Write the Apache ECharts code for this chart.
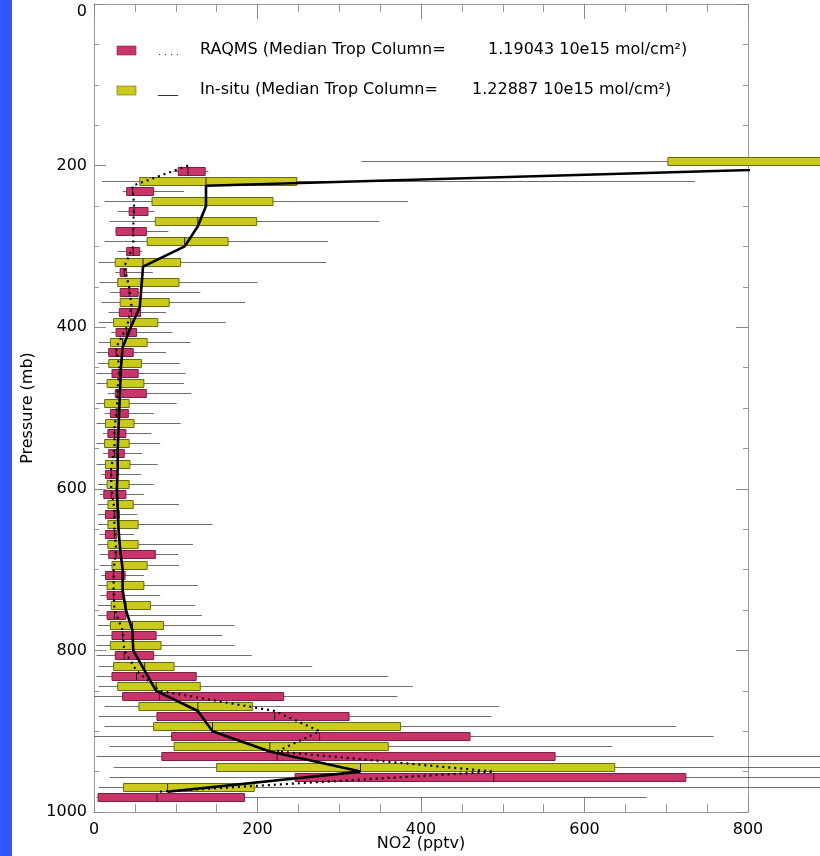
<!DOCTYPE html>
<html>
<head>
<meta charset="utf-8">
<script src="https://cdn.jsdelivr.net/npm/echarts@6/dist/echarts.min.js"></script>
<style>
  html, body { margin: 0; padding: 0; background: #ffffff; }
  #chart { width: 820px; height: 856px; }
</style>
</head>
<body>
<div id="chart"></div>
<script>
// Pressure bins (mb), 25 mb apart
const levels = [200, 225, 250, 275, 300, 325, 350, 375, 400, 425, 450, 475, 500, 525, 550, 575,
                600, 625, 650, 675, 700, 725, 750, 775, 800, 825, 850, 875, 900, 925, 950, 975];

// NO2 statistics per bin (pptv): [min, 25th, median, 75th, max]
const insituStats = [
  [327, 702, 990, 1500, 2200],
  [10, 56, 137, 248, 735],
  [13, 71, 137, 219, 384],
  [19, 75, 127, 199, 349],
  [13, 65, 111, 164, 286],
  [6, 26, 60, 106, 284],
  [7, 29, 58, 104, 200],
  [9, 32, 56, 92, 185],
  [6, 24, 45, 78, 161],
  [6, 20, 35, 65, 118],
  [5, 18, 33, 58, 105],
  [3, 16, 32, 61, 110],
  [3, 13, 31, 43, 101],
  [3, 14, 30, 49, 106],
  [3, 13, 29, 43, 81],
  [3, 14, 29, 44, 78],
  [5, 16, 28, 43, 73],
  [5, 17, 29, 48, 104],
  [5, 17, 30, 54, 145],
  [5, 17, 32, 54, 121],
  [7, 22, 35, 65, 104],
  [5, 16, 35, 61, 127],
  [5, 21, 39, 69, 124],
  [5, 20, 47, 85, 172],
  [3, 20, 48, 82, 172],
  [6, 24, 62, 98, 267],
  [6, 29, 76, 130, 390],
  [13, 55, 127, 194, 496],
  [13, 73, 145, 375, 712],
  [19, 98, 215, 360, 634],
  [24, 150, 326, 637, 1100],
  [6, 36, 90, 196, 1000]
];

const raqmsStats = [
  [97, 103, 115, 136, 140],
  [35, 40, 47, 73, 110],
  [29, 43, 49, 66, 74],
  [26, 27, 48, 64, 91],
  [29, 40, 48, 56, 59],
  [26, 32, 37, 40, 72],
  [20, 32, 43, 54, 130],
  [18, 31, 46, 57, 88],
  [21, 27, 40, 52, 96],
  [3, 18, 27, 48, 88],
  [3, 22, 31, 54, 112],
  [17, 26, 29, 64, 119],
  [13, 20, 28, 42, 73],
  [11, 17, 25, 39, 70],
  [11, 18, 25, 37, 59],
  [9, 14, 21, 29, 58],
  [7, 12, 21, 39, 61],
  [5, 14, 25, 31, 53],
  [7, 14, 25, 28, 49],
  [7, 18, 27, 75, 103],
  [9, 14, 24, 38, 61],
  [7, 16, 24, 36, 81],
  [5, 16, 25, 39, 132],
  [3, 22, 35, 76, 157],
  [3, 26, 37, 73, 193],
  [3, 22, 52, 125, 360],
  [0, 35, 80, 232, 371],
  [6, 77, 221, 312, 486],
  [0, 95, 276, 460, 758],
  [3, 83, 224, 564, 1100],
  [19, 246, 489, 724, 1100],
  [3, 5, 77, 184, 676]
];

const raqmsLabel = 'RAQMS (Median Trop Column=';
const raqmsColumn = '1.19043 10e15 mol/cm\u00B2)';
const insituLabel = 'In-situ (Median Trop Column=';
const insituColumn = '1.22887 10e15 mol/cm\u00B2)';

// ---- drawing ----
const FONT = 'DejaVu Sans';
const PINK = '#c9356a', PINK_EDGE = '#7d1e42';
const YELLOW = '#caca1c', YELLOW_EDGE = '#6a6a0e';
const SHIFT = 6.25;   // the two boxes of a bin sit just above / below the bin centre
const BOX_H = 8;

function boxRenderer(fill, edge, shift) {
  return function (params, api) {
    const p = api.value(0) + shift;
    const lo = api.coord([api.value(1), p]);
    const q1 = api.coord([api.value(2), p]);
    const md = api.coord([api.value(3), p]);
    const q3 = api.coord([api.value(4), p]);
    const hi = api.coord([api.value(5), p]);
    const y = Math.round(lo[1]) + 0.5;
    return {
      type: 'group',
      children: [
        { type: 'line', shape: { x1: lo[0], y1: y, x2: hi[0], y2: y },
          style: { stroke: '#6e6e6e', lineWidth: 1 } },
        { type: 'rect', shape: { x: q1[0], y: y - BOX_H / 2, width: q3[0] - q1[0], height: BOX_H },
          style: { fill: fill, stroke: edge, lineWidth: 1 } },
        { type: 'line', shape: { x1: md[0], y1: y - BOX_H / 2, x2: md[0], y2: y + BOX_H / 2 },
          style: { stroke: '#2a1a10', lineWidth: 1 } }
      ]
    };
  };
}

const insituRows = levels.map((p, i) => [p].concat(insituStats[i]));
const raqmsRows = levels.map((p, i) => [p].concat(raqmsStats[i]));
const insituMedian = levels.map((p, i) => [insituStats[i][2], p]);
const raqmsMedian = levels.map((p, i) => [raqmsStats[i][2], p]);

const axisGray = '#9a9a9a';
const labelStyle = { color: '#000', fontFamily: FONT, fontSize: 16 };

function xAxisDef(pos, showLabel) {
  return {
    type: 'value', position: pos, min: 0, max: 800, interval: 200,
    axisLine: { show: true, onZero: false, lineStyle: { color: axisGray, width: 1 } },
    axisTick: { show: true, inside: true, length: 15, lineStyle: { color: '#8a8a8a' } },
    minorTick: { show: true, splitNumber: 4, length: 8, lineStyle: { color: '#9a9a9a' } },
    splitLine: { show: false },
    axisLabel: Object.assign({ show: showLabel, margin: 10, formatter: v => String(v) }, labelStyle),
    name: showLabel ? 'NO2 (pptv)' : '',
    nameLocation: 'middle', nameGap: 24, nameMoveOverlap: false,
    nameTextStyle: labelStyle
  };
}

function yAxisDef(pos, showLabel) {
  return {
    type: 'value', position: pos, inverse: true, min: 0, max: 1000, interval: 200,
    axisLine: { show: true, onZero: false, lineStyle: { color: axisGray, width: 1 } },
    axisTick: { show: true, inside: true, length: 12, lineStyle: { color: '#8a8a8a' } },
    minorTick: { show: true, splitNumber: 4, length: 5, lineStyle: { color: '#9a9a9a' } },
    splitLine: { show: false },
    axisLabel: Object.assign({ show: showLabel, margin: 7, verticalAlignMinLabel: 'top',
                               formatter: v => String(v) }, labelStyle),
    name: showLabel ? 'Pressure (mb)' : '',
    nameLocation: 'middle', nameGap: 44, nameRotate: 90,
    nameTextStyle: labelStyle
  };
}

const chart = echarts.init(document.getElementById('chart'), null, { renderer: 'canvas' });

chart.setOption({
  backgroundColor: '#ffffff',
  animation: false,
  grid: { left: 94, right: 72, top: 4, bottom: 44, containLabel: false, outerBoundsMode: 'none' },
  xAxis: [xAxisDef('bottom', true), xAxisDef('top', false)],
  yAxis: [yAxisDef('left', true), yAxisDef('right', false)],
  series: [
    {
      type: 'custom', name: 'In-situ', data: insituRows, clip: false, z: 2,
      encode: { x: [1, 2, 3, 4, 5], y: 0 },
      renderItem: boxRenderer(YELLOW, YELLOW_EDGE, -SHIFT)
    },
    {
      type: 'custom', name: 'RAQMS', data: raqmsRows, clip: false, z: 2,
      encode: { x: [1, 2, 3, 4, 5], y: 0 },
      renderItem: boxRenderer(PINK, PINK_EDGE, SHIFT)
    },
    {
      type: 'line', name: 'In-situ median', data: insituMedian, clip: true, z: 4,
      symbol: 'none',
      lineStyle: { color: '#000', width: 2.6 }
    },
    {
      type: 'line', name: 'RAQMS median', data: raqmsMedian, clip: true, z: 4,
      symbol: 'none',
      lineStyle: { color: '#000', width: 2.2, type: [2, 4] }
    }
  ],
  graphic: [
    { type: 'rect', left: 0, top: 0, shape: { width: 12, height: 856 }, style: { fill: '#3456ff' }, z: 10 },
    // legend
    { type: 'rect', shape: { x: 117, y: 46, width: 19, height: 9 }, style: { fill: PINK, stroke: PINK_EDGE, lineWidth: 0.6 }, z: 10 },
    { type: 'line', shape: { x1: 159, y1: 54.5, x2: 179, y2: 54.5 }, style: { stroke: '#333', lineWidth: 1, lineDash: [1, 5] }, z: 10 },
    { type: 'text', x: 200, y: 50, style: { text: raqmsLabel, fill: '#000', font: '16px "DejaVu Sans"', verticalAlign: 'middle' }, z: 10 },
    { type: 'text', x: 488, y: 50, style: { text: raqmsColumn, fill: '#000', font: '16px "DejaVu Sans"', verticalAlign: 'middle' }, z: 10 },
    { type: 'rect', shape: { x: 117, y: 86, width: 19, height: 9 }, style: { fill: YELLOW, stroke: YELLOW_EDGE, lineWidth: 0.6 }, z: 10 },
    { type: 'line', shape: { x1: 158, y1: 95.5, x2: 178, y2: 95.5 }, style: { stroke: '#333', lineWidth: 1 }, z: 10 },
    { type: 'text', x: 200, y: 90, style: { text: insituLabel, fill: '#000', font: '16px "DejaVu Sans"', verticalAlign: 'middle' }, z: 10 },
    { type: 'text', x: 472, y: 90, style: { text: insituColumn, fill: '#000', font: '16px "DejaVu Sans"', verticalAlign: 'middle' }, z: 10 }
  ]
});
</script>
</body>
</html>
